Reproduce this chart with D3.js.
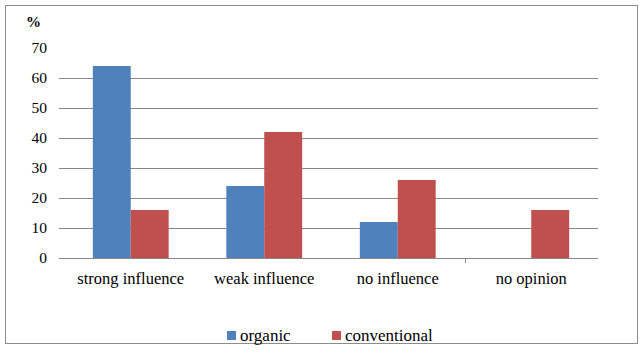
<!DOCTYPE html>
<html>
<head>
<meta charset="utf-8">
<script src="https://cdn.jsdelivr.net/npm/d3@7"></script>
</head>
<body style="margin:0">
<svg id="chart" width="642" height="354"></svg>
<script>
const categories = ["strong influence", "weak influence", "no influence", "no opinion"];
const seriesNames = ["organic", "conventional"];
const organic = [64, 24, 12, 0];
const conventional = [16, 42, 26, 16];
const yTicks = [0, 10, 20, 30, 40, 50, 60, 70];
const colors = ["#4F81BD", "#C0504D"];
const FONT = '"Liberation Serif"';

const svg = d3.select("#chart").style("font-family", FONT);

// outer frame
svg.append("rect")
  .attr("x", 5.5).attr("y", 5.5)
  .attr("width", 632).attr("height", 338)
  .attr("fill", "#fff").attr("stroke", "#8c8c8c").attr("stroke-width", 1);

const plot = { left: 64, right: 598, top: 48, bottom: 258 };

const x0 = d3.scaleBand().domain(categories).range([plot.left, plot.right]).paddingInner(0).paddingOuter(0);
const x1 = d3.scaleBand().domain(seriesNames).range([0, x0.bandwidth()]).paddingInner(0).paddingOuter(0.76);
const y = d3.scaleLinear().domain([0, 70]).range([plot.bottom, plot.top]);

// horizontal gridlines (no line at the top value)
svg.append("g").selectAll("line")
  .data(yTicks.filter(t => t > 0 && t < 70))
  .join("line")
  .attr("x1", plot.left - 5).attr("x2", plot.right)
  .attr("y1", d => Math.round(y(d)) + 0.5).attr("y2", d => Math.round(y(d)) + 0.5)
  .attr("stroke", "#868686").attr("stroke-width", 1);

// y tick labels
svg.append("g").selectAll("text")
  .data(yTicks)
  .join("text")
  .attr("x", 47).attr("y", d => y(d) + 5)
  .attr("text-anchor", "end")
  .style("font-family", d => FONT)
  .style("font-size", "15.5px")
  .text(d => d);

svg.append("text")
  .attr("x", 26).attr("y", 27)
  .style("font-family", FONT)
  .style("font-size", "15px").style("font-weight", "bold")
  .text("%");

// bars
const rows = categories.map((c, i) => ({ cat: c, vals: [organic[i], conventional[i]] }));
svg.append("g").selectAll("g")
  .data(rows)
  .join("g")
  .attr("transform", d => `translate(${x0(d.cat)},0)`)
  .selectAll("rect")
  .data(d => d.vals.map((v, j) => ({ name: seriesNames[j], v, j })))
  .join("rect")
  .attr("x", d => x1(d.name))
  .attr("width", x1.bandwidth())
  .attr("y", d => y(d.v))
  .attr("height", d => y(0) - y(d.v))
  .attr("fill", d => colors[d.j]);

// category axis baseline and tick
svg.append("line")
  .attr("x1", plot.left - 5).attr("x2", plot.right)
  .attr("y1", plot.bottom + 0.5).attr("y2", plot.bottom + 0.5)
  .attr("stroke", "#868686");
svg.append("line")
  .attr("x1", Math.round(x0(categories[3])) + 0.5).attr("x2", Math.round(x0(categories[3])) + 0.5)
  .attr("y1", plot.bottom).attr("y2", plot.bottom + 5)
  .attr("stroke", "#868686");

// category labels
svg.append("g").selectAll("text")
  .data(categories)
  .join("text")
  .attr("x", d => x0(d) + x0.bandwidth() / 2)
  .attr("y", 284)
  .attr("text-anchor", "middle")
  .style("font-family", d => FONT)
  .style("font-size", "16.5px")
  .text(d => d);

// legend
const legendX = [227, 332];
const lg = svg.append("g").selectAll("g")
  .data(seriesNames)
  .join("g");
lg.append("rect")
  .attr("x", (d, i) => legendX[i]).attr("y", 331)
  .attr("width", 9).attr("height", 9)
  .attr("fill", (d, i) => colors[i]);
lg.append("text")
  .attr("x", (d, i) => legendX[i] + 13).attr("y", 341)
  .style("font-family", d => FONT)
  .style("font-size", "17px")
  .text(d => d);
</script>
</body>
</html>
